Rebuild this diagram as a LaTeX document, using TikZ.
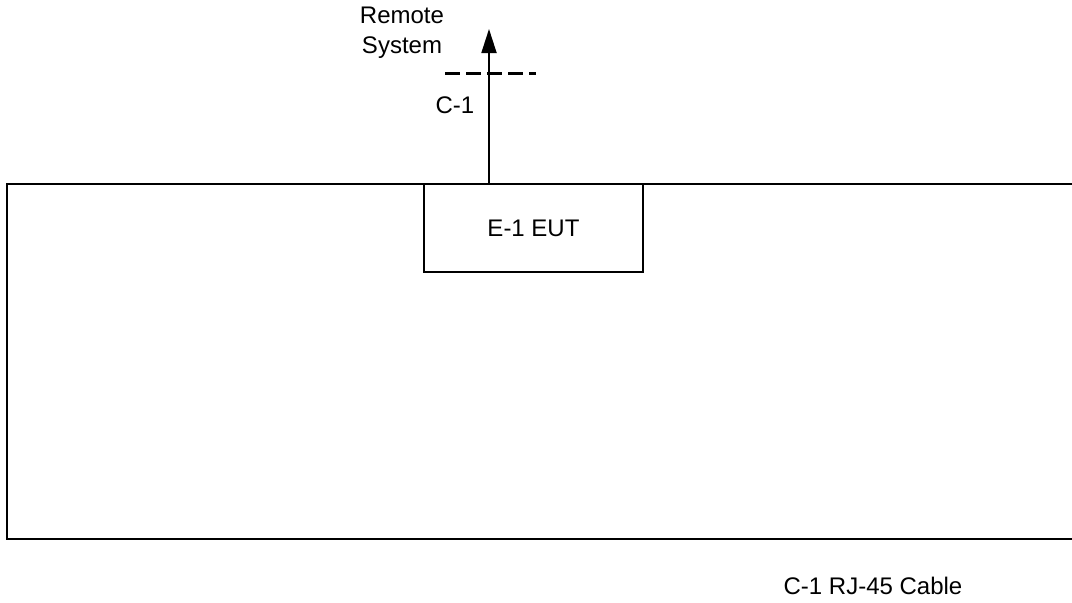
\documentclass[tikz,border=0pt]{standalone}
\usepackage{fontspec}
\setmainfont{Liberation Sans}
\usetikzlibrary{calc, positioning, arrows.meta}

\begin{document}
\begin{tikzpicture}[x=0.5pt,y=-0.5pt,line width=0.9pt,font=\fontsize{12}{15}\selectfont]
\useasboundingbox (0,0) rectangle (1072,602);
% outer frame, open on the right
\draw (1072,184) -- (7,184) -- (7,539) -- (1072,539);
\node[draw, minimum width=109.5pt, minimum height=44pt, inner sep=0pt] (eut) at (533.5,228) {E-1 EUT};
\coordinate (cab) at (489,184);
\coordinate (rem) at (489,29);
\draw[-{Triangle[length=12pt,width=7.5pt]}] (cab) -- (rem);
\draw[line width=1.5pt, dash pattern=on 7.5pt off 3pt] (445,73) -- (536,73);
\node[align=center] (remote) at (402,33) {Remote\\System};
\node (c1) at (455,105) {C-1};
\node (cable) at (873,586) {C-1 RJ-45 Cable};
\end{tikzpicture}
\end{document}
